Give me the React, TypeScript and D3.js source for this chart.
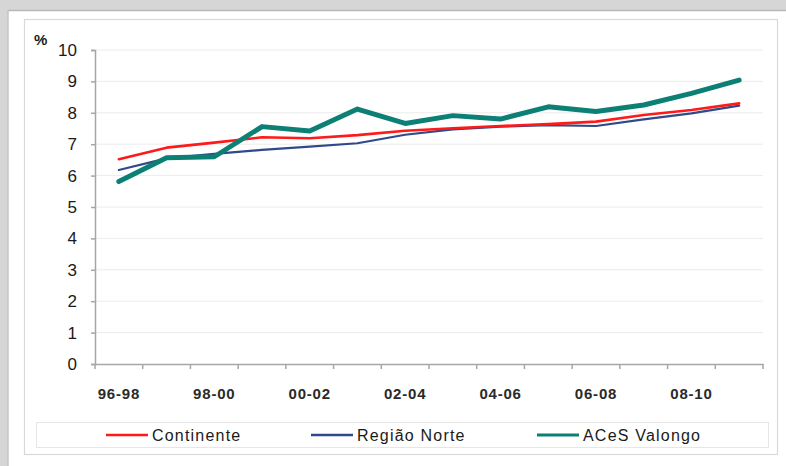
import React, { useEffect, useRef } from "react";
import * as d3 from "d3";

const categories = ["96-98","97-99","98-00","99-01","00-02","01-03","02-04","03-05","04-06","05-07","06-08","07-09","08-10","09-11"];
const shownLabels = ["96-98","98-00","00-02","02-04","04-06","06-08","08-10"];
const continente = [6.52, 6.89, 7.05, 7.22, 7.19, 7.29, 7.43, 7.51, 7.58, 7.64, 7.72, 7.93, 8.09, 8.30];
const regiaoNorte = [6.18, 6.55, 6.69, 6.82, 6.92, 7.03, 7.30, 7.47, 7.56, 7.61, 7.58, 7.79, 7.98, 8.23];
const acesValongo = [5.81, 6.57, 6.60, 7.56, 7.42, 8.12, 7.66, 7.91, 7.80, 8.19, 8.04, 8.25, 8.62, 9.04];
const yTicks = [0,1,2,3,4,5,6,7,8,9,10];
const seriesNames = ["Continente", "Região Norte", "ACeS Valongo"];

export default function App() {
  const ref = useRef<SVGSVGElement>(null);
  useEffect(() => {
    const svg = d3.select(ref.current);
    svg.selectAll("*").remove();
    const W = 786, H = 466;
    const font = "Liberation Sans, Arial, sans-serif";
    // backgrounds
    svg.append("rect").attr("x",0).attr("y",0).attr("width",W).attr("height",H).attr("fill","#d6d6d6");
    svg.append("rect").attr("x",8).attr("y",10).attr("width",W-8).attr("height",H-10).attr("fill","#ffffff");
    svg.append("line").attr("x1",8).attr("x2",W).attr("y1",10.5).attr("y2",10.5).attr("stroke","#b8b8b8").attr("stroke-width",1.5);
    svg.append("line").attr("x1",8).attr("x2",8).attr("y1",10).attr("y2",H).attr("stroke","#c4c4c4").attr("stroke-width",1.5);
    svg.append("rect").attr("x",24.5).attr("y",19.5).attr("width",753).attr("height",435).attr("fill","#fff").attr("stroke","#d9d9d9").attr("stroke-width",1.2);

    const x = d3.scaleBand().domain(categories).range([95, 763]);
    const y = d3.scaleLinear().domain([0, 10]).range([364, 50]);

    // gridlines
    svg.append("g").selectAll("line").data(yTicks.filter(t => t > 0)).join("line")
      .attr("x1", 95).attr("x2", 763).attr("y1", d => y(d)).attr("y2", d => y(d))
      .attr("stroke", "#ececec").attr("stroke-width", 1);

    // y axis
    const yAxis = svg.append("g").attr("transform", "translate(95,0)")
      .call(d3.axisLeft(y).tickValues(yTicks).tickSize(4).tickPadding(14).tickFormat(d3.format("d")));
    yAxis.select(".domain").attr("stroke", "#a6a6a6").attr("stroke-width", 1.5);
    yAxis.selectAll(".tick line").attr("stroke", "#a6a6a6").attr("stroke-width", 1.5);
    yAxis.selectAll(".tick text").attr("font-family", font).attr("font-size", 17).attr("fill", "#1a1a1a");

    // x axis
    const xAxis = svg.append("g").attr("transform", "translate(0,364)")
      .call(d3.axisBottom(x).tickSize(0).tickFormat(() => ""));
    xAxis.select(".domain").attr("stroke", "#a6a6a6").attr("stroke-width", 1.5);
    const bounds = categories.map(c => x(c) as number).concat([763]);
    svg.append("g").selectAll("line").data(bounds).join("line")
      .attr("x1", d => d).attr("x2", d => d).attr("y1", 364).attr("y2", 369)
      .attr("stroke", "#a6a6a6").attr("stroke-width", 1.5);
    svg.append("g").selectAll("text").data(shownLabels).join("text")
      .attr("x", d => (x(d) as number) + x.bandwidth() / 2).attr("y", 399)
      .attr("text-anchor", "middle").attr("font-family", font).attr("font-size", 15)
      .attr("font-weight", "bold").attr("letter-spacing", 0.8).attr("fill", "#2a2a2a").text(d => d);

    svg.append("text").attr("x", 34).attr("y", 45).attr("font-family", font).attr("font-size", 15)
      .attr("font-weight", "bold").attr("fill", "#1a1a1a").text("%");

    // lines
    const line = d3.line<number>().x((_, i) => (x(categories[i]) as number) + x.bandwidth() / 2).y(d => y(d));
    const series = [
      { vals: continente, color: "#ff1a1a", w: 2.6 },
      { vals: regiaoNorte, color: "#2e4a8a", w: 2.2 },
      { vals: acesValongo, color: "#0d8075", w: 5 },
    ];
    const order = [1, 0, 2];
    order.forEach(k => {
      const s = series[k];
      svg.append("path").datum(s.vals).attr("d", line).attr("fill", "none")
        .attr("stroke", s.color).attr("stroke-width", s.w).attr("stroke-linejoin", "round").attr("stroke-linecap", "round");
    });

    // legend
    svg.append("rect").attr("x", 36.5).attr("y", 422.5).attr("width", 732).attr("height", 25)
      .attr("fill", "#fff").attr("stroke", "#e6e6e6").attr("stroke-width", 1);
    const legendX = [106, 311, 537];
    seriesNames.forEach((n, i) => {
      svg.append("line").attr("x1", legendX[i]).attr("x2", legendX[i] + 42).attr("y1", 435).attr("y2", 435)
        .attr("stroke", series[i].color).attr("stroke-width", i === 2 ? 3 : 2.5);
      svg.append("text").attr("x", legendX[i] + 46).attr("y", 441).attr("font-family", font)
        .attr("font-size", 16).attr("letter-spacing", 1.2).attr("fill", "#1a1a1a").text(n);
    });
  }, []);
  return (
    <div style={{ position: "fixed", left: 0, top: 0 }}>
      <svg ref={ref} width={786} height={466} style={{ display: "block" }} />
    </div>
  );
}
